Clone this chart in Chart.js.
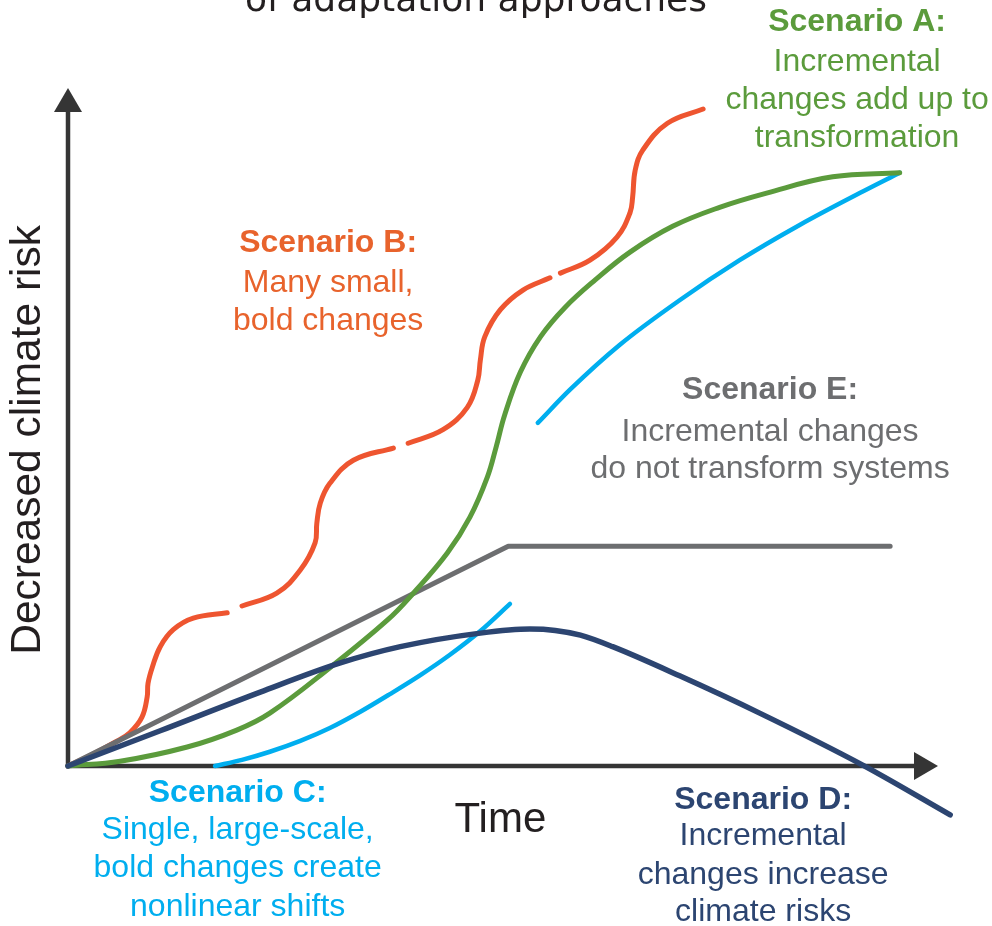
<!DOCTYPE html>
<html>
<head>
<meta charset="utf-8">
<script src="https://cdn.jsdelivr.net/npm/chart.js@4.4.0/dist/chart.umd.min.js"></script>
<style>
html,body{margin:0;padding:0;background:#fff;}
#wrap{width:992px;height:926px;}
</style>
</head>
<body>
<div id="wrap"><canvas id="c" width="992" height="926"></canvas></div>
<script>
// Time (0-100) and decreased climate risk (0-100)
const timeA = [0,6.0,13.7,19.4,23.2,30.1,36.7,39.7,43.6,46.2,48.2,49.2,50.2,52.0,54.3,57.1,60.6,64.6,69.5,74.9,80.3,87.9,95.6];
const riskA = [0,0.7,2.8,5.3,7.8,14.5,21.5,25.5,31.4,36.7,42.6,47.0,51.8,58.1,63.3,67.6,71.7,75.8,79.6,82.4,84.5,86.9,87.5];

const timeB = [0,2.5,5.4,7.1,8.5,9.1,9.2,9.7,10.6,12.1,14.4,18.3, 19.2, 20.0,24.0,26.7,28.4,28.6,29.0,30.1,32.8,37.4, 38.2, 39.1,43.1,45.9,47.1,47.4,47.9,49.7,52.3,55.4, 56.0, 56.6,60.0,63.1,64.6,64.9,65.2,66.1,68.9,73.0];
const riskB = [0,1.5,3.5,4.9,7.2,10.2,12.2,14.6,17.6,20.1,21.8,22.6, null, 23.6,25.5,28.9,32.9,35.8,38.8,41.7,45.1,46.9, null, 47.6,49.6,52.9,56.9,59.9,63.3,67.3,70.2,72.0, null, 72.7,74.6,78.0,81.6,83.9,87.9,90.9,94.8,96.9];

const timeC = [16.9,20.0,23.2,26.7,30.1,33.6,37.0,40.5,43.9,47.4,50.8, 52.4, 54.0,57.7,63.4,70.3,77.2,84.1,91.0,95.6];
const riskC = [0,0.9,2.1,3.7,5.6,8.0,10.6,13.4,16.4,19.9,23.9, null, 50.6,55.5,62.1,68.7,74.6,79.8,84.5,87.5];

const timeD = [0,10.6,22.1,31.3,38.2,47.4,53.1,56.0,58.9,62.6,70.3,79.5,91.4,101.4];
const riskD = [0,5.2,10.9,15.2,17.6,19.6,20.2,20.0,19.3,17.6,13.3,7.8,0.1,-7.2];

const timeE = [0,50.6,94.5];
const riskE = [0,32.4,32.4];

const scenarioNames = ["Scenario A:","Scenario B:","Scenario C:","Scenario D:","Scenario E:"];
const scenarioTexts = [
  ["Incremental","changes add up to","transformation"],
  ["Many small,","bold changes"],
  ["Single, large-scale,","bold changes create","nonlinear shifts"],
  ["Incremental","changes increase","climate risks"],
  ["Incremental changes","do not transform systems"]
];
const xTitle = "Time";
const yTitle = "Decreased climate risk";
const topTitle = "of adaptation approaches";

const colA = "#5B9B3C", colB = "#EE5530", colBText = "#E8632C", colC = "#00AEEF", colD = "#2C4571", colE = "#6D6E70";

function pts(xs, ys){ return xs.map((x,i)=>({x:x, y:ys[i]})); }

// label anchors in data units (centre of each text line)
const labelLayout = [
  {x:90.7, ys:[109.7,103.8,98.2,92.6], color:colA},
  {x:29.9, ys:[77.1,71.2,65.6], color:colBText},
  {x:19.5, ys:[-4.0,-9.4,-15.0,-20.8], color:colC},
  {x:79.9, ys:[-5.0,-10.3,-16.1,-21.5], color:colD},
  {x:80.7, ys:[55.5,49.3,43.8], color:colE}
];

const FONT = '"Liberation Sans", Arial, sans-serif';

const axesPlugin = {
  id:'axesArrows',
  beforeDatasetsDraw(chart){
    const ctx = chart.ctx, xs = chart.scales.x, ys = chart.scales.y;
    const x0 = xs.getPixelForValue(0), y0 = ys.getPixelForValue(0);
    const xEnd = xs.getPixelForValue(100), yEnd = ys.getPixelForValue(100);
    ctx.save();
    ctx.strokeStyle = '#353535'; ctx.fillStyle = '#353535';
    ctx.lineWidth = 4.5; ctx.lineCap = 'butt';
    ctx.beginPath();
    ctx.moveTo(x0, y0+2); ctx.lineTo(x0, yEnd+20);
    ctx.moveTo(x0-2, y0); ctx.lineTo(xEnd-20, y0);
    ctx.stroke();
    ctx.beginPath();
    ctx.moveTo(x0, yEnd); ctx.lineTo(x0-14, yEnd+24); ctx.lineTo(x0+14, yEnd+24); ctx.closePath(); ctx.fill();
    ctx.beginPath();
    ctx.moveTo(xEnd, y0); ctx.lineTo(xEnd-24, y0-14); ctx.lineTo(xEnd-24, y0+14); ctx.closePath(); ctx.fill();
    ctx.restore();
  },
  afterDraw(chart){
    const ctx = chart.ctx, xs = chart.scales.x, ys = chart.scales.y;
    ctx.save();
    ctx.textAlign = 'center'; ctx.textBaseline = 'middle';
    labelLayout.forEach((l,i)=>{
      const lines = [scenarioNames[i]].concat(scenarioTexts[i]);
      lines.forEach((t,j)=>{
        ctx.font = (j===0 ? 'bold ' : '') + '32px ' + FONT;
        ctx.fillStyle = l.color;
        ctx.fillText(t, xs.getPixelForValue(l.x), ys.getPixelForValue(l.ys[j]));
      });
    });
    ctx.fillStyle = '#231F20';
    ctx.font = '42px ' + FONT;
    ctx.fillText(xTitle, xs.getPixelForValue(49.7), ys.getPixelForValue(-8.0));
    ctx.save();
    ctx.translate(xs.getPixelForValue(-4.6), ys.getPixelForValue(48.1));
    ctx.rotate(-Math.PI/2);
    ctx.font = '42.5px ' + FONT;
    ctx.fillText(yTitle, 0, 0);
    ctx.restore();
    ctx.textBaseline = 'alphabetic';
    ctx.font = '36px "DejaVu Sans", sans-serif';
    ctx.fillText(topTitle, xs.getPixelForValue(46.9), ys.getPixelForValue(111.4));
    ctx.restore();
  }
};

const common = {fill:false, pointRadius:0, pointHoverRadius:0, borderCapStyle:'round', borderJoinStyle:'round', clip:false, spanGaps:false};

new Chart(document.getElementById('c'), {
  type:'line',
  data:{
    datasets:[
      Object.assign({label:'D', data:pts(timeD,riskD), borderColor:colD, borderWidth:5.5, cubicInterpolationMode:'monotone', order:0}, common),
      Object.assign({label:'A', data:pts(timeA,riskA), borderColor:colA, borderWidth:5, tension:0.4, order:1}, common),
      Object.assign({label:'E', data:pts(timeE,riskE), borderColor:colE, borderWidth:5, tension:0, order:2}, common),
      Object.assign({label:'C', data:pts(timeC,riskC), borderColor:colC, borderWidth:4.5, cubicInterpolationMode:'monotone', order:3}, common),
      Object.assign({label:'B', data:pts(timeB,riskB), borderColor:colB, borderWidth:5, tension:0.4, order:4}, common)
    ]
  },
  options:{
    responsive:false, animation:false, devicePixelRatio:1,
    layout:{padding:0},
    plugins:{legend:{display:false}, tooltip:{enabled:false}, title:{display:false}},
    events:[],
    scales:{
      x:{type:'linear', display:false, min:-68/8.7, max:(992-68)/8.7},
      y:{type:'linear', display:false, min:-(926-766)/6.78, max:766/6.78}
    }
  },
  plugins:[axesPlugin]
});
</script>
</body>
</html>
